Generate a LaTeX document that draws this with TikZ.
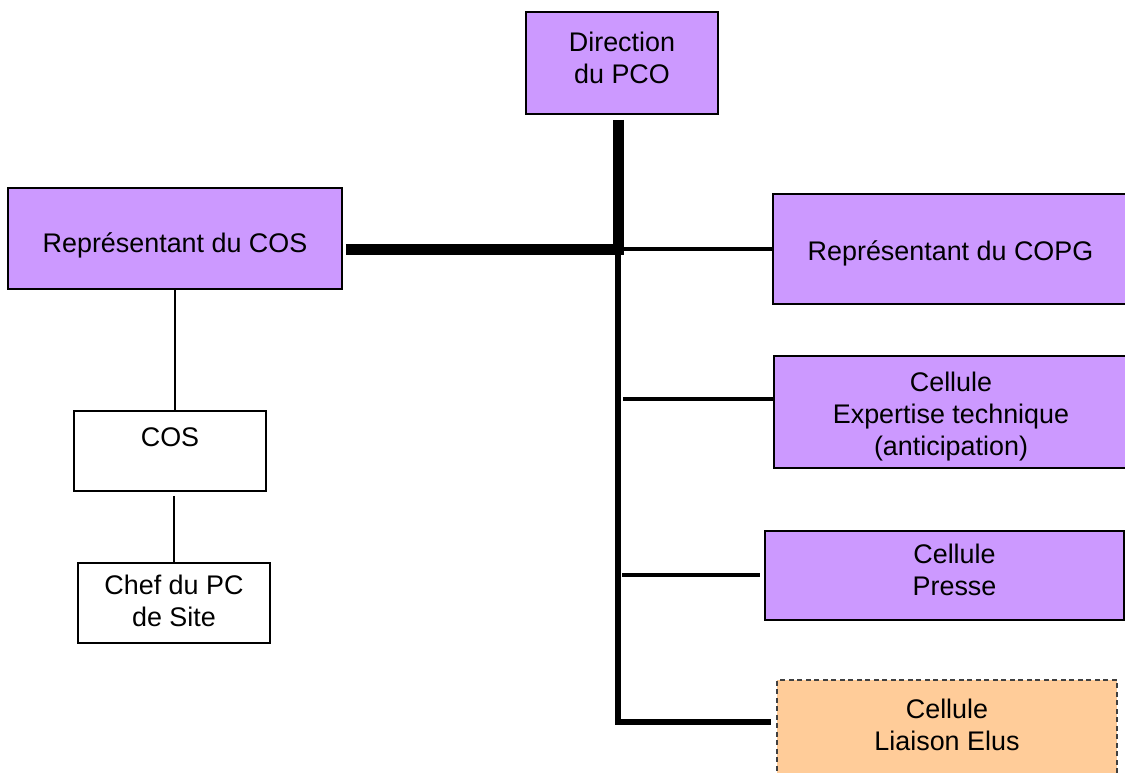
\documentclass[tikz,border=0pt]{standalone}
\usepackage{fontspec}
\setmainfont{Liberation Sans}
\definecolor{purp}{HTML}{CC99FF}
\definecolor{peach}{HTML}{FFCC99}
\begin{document}
\begin{tikzpicture}[x=1pt,y=-1pt,
  box/.style={draw=black, line width=1.5pt, fill=purp, inner sep=0pt},
  plainbox/.style={box, fill=white},
  dashbox/.style={draw=black!75, line width=1.5pt, dash pattern=on 5pt off 3.5pt, fill=peach, inner sep=0pt},
  lab/.style={font=\fontsize{26.9}{32}\selectfont, align=center, inner sep=0pt, text=black},
  heavy/.style={line width=11pt},
  trunk/.style={line width=6pt, line join=miter},
  branch/.style={line width=4pt},
  thinline/.style={line width=2pt}]
\useasboundingbox (0,0) rectangle (1125,772);

% boxes
\node[box, minimum width=192pt, minimum height=102pt,
  label={[lab,yshift=5.5pt]center:Direction\\du PCO}] (dir) at (622,63) {};
\node[box, minimum width=334pt, minimum height=101pt,
  label={[lab,yshift=-7pt]center:Représentant du COS}] (repcos) at (175,238.5) {};
\node[box, minimum width=355pt, minimum height=110pt,
  label={[lab,yshift=-4.7pt]center:Représentant du COPG}] (copg) at (950.5,249) {};
\node[box, minimum width=354pt, minimum height=112pt,
  label={[lab,yshift=-5pt]center:Cellule\\Expertise technique\\(anticipation)}] (exp) at (951,412) {};
\node[box, minimum width=359pt, minimum height=89pt,
  label={[lab,xshift=10pt,yshift=5.5pt]center:Cellule\\Presse}] (presse) at (944.5,575.5) {};
\node[dashbox, minimum width=340pt, minimum height=110pt,
  label={[lab,yshift=10pt]center:Cellule\\Liaison Elus}] (liaison) at (947,735) {};
\node[plainbox, minimum width=192pt, minimum height=80pt,
  label={[lab,yshift=13.5pt]center:COS}] (cos) at (170,451) {};
\node[plainbox, minimum width=192pt, minimum height=80pt,
  label={[lab,yshift=2pt]center:Chef du PC\\de Site}] (chef) at (174,603) {};

% junctions
\coordinate (hub) at (618,249);
\coordinate (bot) at (618,722);
\coordinate (e1) at (623,399);
\coordinate (p1) at (622,575);

% connectors
\draw[heavy, shorten <=5pt] (dir.south -| hub) -- ([yshift=-5.5pt]hub);
\draw[heavy, shorten <=3pt] (repcos.east |- hub) -- ([xshift=5.5pt]hub);
\draw[branch] ([xshift=5pt]hub) -- (copg.west);
\draw[trunk, shorten >=5pt] (hub) -- (bot) -- (liaison.west |- bot);
\draw[branch] (e1) -- (exp.west |- e1);
\draw[branch, shorten >=4pt] (p1) -- (presse.west |- p1);
\draw[thinline] (repcos.south) -- (repcos.south |- cos.north);
\draw[thinline, shorten <=4pt] (cos.south -| chef.north) -- (chef.north);
\end{tikzpicture}
\end{document}
